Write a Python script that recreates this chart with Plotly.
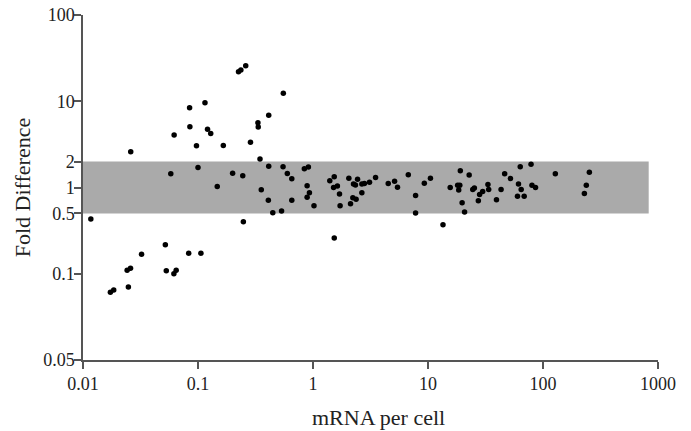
import plotly.graph_objects as go

# mRNA per cell (x) and fold difference (y)
mrna_per_cell = [0.0117, 0.0173, 0.0185, 0.0242, 0.0259, 0.0248, 0.0323, 0.026, 0.052, 0.053,
                 0.0617, 0.0646, 0.083, 0.106, 0.058, 0.062, 0.0845, 0.085, 0.097, 0.100,
                 0.115, 0.121, 0.129, 0.147, 0.166, 0.20, 0.245, 0.225, 0.236, 0.26,
                 0.248, 0.286, 0.332, 0.334, 0.346, 0.355, 0.412, 0.412, 0.409, 0.447,
                 0.533, 0.552, 0.549, 0.598, 0.654, 0.654, 0.841, 0.912, 0.889, 0.931,
                 0.889, 1.02, 1.40, 1.53, 1.51, 1.63, 1.70, 1.72, 1.53, 2.05,
                 2.25, 2.34, 2.44, 2.66, 2.80, 3.10, 3.50, 2.66, 2.22, 2.37,
                 2.12, 4.51, 5.12, 5.43, 6.74, 7.80, 7.80, 9.29, 10.5, 13.5,
                 15.6, 18.1, 18.5, 18.9, 19.1, 22.8, 19.8, 20.8, 24.5, 25.3,
                 28.1, 29.9, 27.4, 33.2, 33.7, 39.4, 43.2, 46.4, 52.1, 63.4,
                 78.7, 61.2, 64.6, 60.0, 68.6, 80.2, 86.1, 128, 253, 238,
                 229]
fold_difference = [0.43, 0.061, 0.065, 0.11, 0.116, 0.070, 0.168, 2.6, 0.217, 0.108,
                   0.100, 0.110, 0.173, 0.173, 1.44, 4.06, 8.4, 5.07, 3.05, 1.70,
                   9.6, 4.73, 4.23, 1.03, 3.07, 1.46, 1.37, 22.0, 23.0, 25.8,
                   0.40, 3.34, 5.64, 5.03, 2.14, 0.94, 6.87, 1.76, 0.71, 0.51,
                   0.535, 12.4, 1.74, 1.45, 1.26, 0.71, 1.65, 1.73, 1.05, 0.87,
                   0.77, 0.615, 1.20, 1.33, 1.0, 1.04, 0.84, 0.615, 0.26, 1.28,
                   1.10, 1.07, 1.245, 1.10, 1.11, 1.15, 1.31, 0.87, 0.76, 0.73,
                   0.65, 1.11, 1.18, 1.01, 1.41, 0.81, 0.506, 1.12, 1.28, 0.37,
                   1.0, 1.06, 0.935, 1.06, 1.56, 1.40, 0.665, 0.52, 0.95, 0.99,
                   0.83, 0.90, 0.70, 1.08, 0.95, 0.72, 0.95, 1.44, 1.27, 1.74,
                   1.86, 1.10, 0.95, 0.79, 0.79, 1.06, 1.0, 1.44, 1.50, 1.06,
                   0.85]

# shaded two-fold band
band_low, band_high = 0.5, 2
band_x_start, band_x_end = 0.01, 830

x_tickvals = [0.01, 0.1, 1, 10, 100, 1000]
x_ticktext = ["0.01", "0.1", "1", "10", "100", "1000"]
y_tickvals = [0.01, 0.1, 0.5, 1, 2, 10, 100]
y_ticktext = ["0.05", "0.1", "0.5", "1", "2", "10", "100"]

serif = "Liberation Serif, Times New Roman, serif"
axis_color = "#555555"

fig = go.Figure()
fig.add_trace(go.Scatter(
    x=[band_x_start, band_x_end, band_x_end, band_x_start, band_x_start],
    y=[band_low, band_low, band_high, band_high, band_low],
    fill="toself", fillcolor="#aaaaaa", mode="lines",
    line=dict(width=0, color="#aaaaaa"), hoverinfo="skip", showlegend=False))
fig.add_trace(go.Scatter(
    x=mrna_per_cell, y=fold_difference, mode="markers",
    marker=dict(color="black", size=5.5), showlegend=False))

fig.update_layout(
    width=691, height=431,
    margin=dict(l=83, r=33, t=15, b=71),
    paper_bgcolor="white", plot_bgcolor="white",
    font=dict(family=serif, size=18, color="#222222"),
    annotations=[dict(text="mRNA per cell", xref="paper", yref="paper",
                      x=0.514, y=-0.168, xanchor="center", yanchor="middle",
                      showarrow=False, font=dict(family=serif, size=22, color="#222222"))],
)
fig.update_xaxes(
    type="log", range=[-2, 3], tickvals=x_tickvals, ticktext=x_ticktext,
    automargin=False,
    showgrid=False, zeroline=False, showline=True, linecolor=axis_color, linewidth=1.5,
    ticks="outside", ticklen=7, tickwidth=1.5, tickcolor=axis_color,
)
fig.update_yaxes(
    type="log", range=[-2, 2], tickvals=y_tickvals, ticktext=y_ticktext,
    automargin=False, ticklabelstandoff=-4,
    showgrid=False, zeroline=False, showline=True, linecolor=axis_color, linewidth=1.5,
    ticks="outside", ticklen=7, tickwidth=1.5, tickcolor=axis_color,
    title=dict(text="Fold Difference", font=dict(family=serif, size=22), standoff=6),
)

fig.write_html("out.html", config={"displayModeBar": False},
               post_script="document.body.style.margin='0px';")
